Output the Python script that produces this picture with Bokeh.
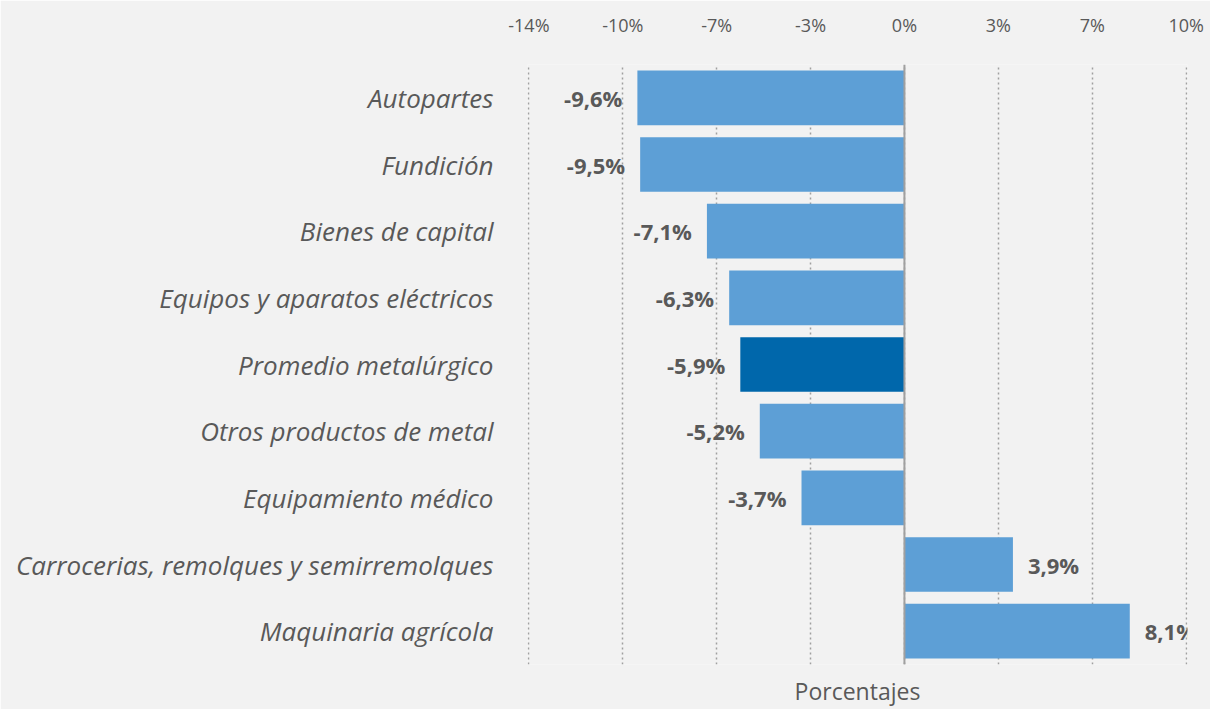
from bokeh.plotting import figure
from bokeh.models import (FactorRange, Range1d, LinearAxis, FixedTicker, Span,
                          ColumnDataSource, LabelSet)
from bokeh.core.properties import value
from bokeh.embed import file_html
from bokeh.resources import INLINE

categories = [
    "Autopartes",
    "Fundición",
    "Bienes de capital",
    "Equipos y aparatos eléctricos",
    "Promedio metalúrgico",
    "Otros productos de metal",
    "Equipamiento médico",
    "Carrocerias, remolques y semirremolques",
    "Maquinaria agrícola",
]
values = [-9.6, -9.5, -7.1, -6.3, -5.9, -5.2, -3.7, 3.9, 8.1]
highlight = "Promedio metalúrgico"

tick_values = [-13.5, -10.125, -6.75, -3.375, 0, 3.375, 6.75, 10.125]
tick_labels = ["-14%", "-10%", "-7%", "-3%", "0%", "3%", "7%", "10%"]

FONT = "Open Sans"
TXT = "#595959"

colors = ["#0067ab" if c == highlight else "#5d9fd6" for c in categories]
labels = [f"{v:.1f}".replace(".", ",") + "%" for v in values]
aligns = ["right" if v < 0 else "left" for v in values]
offsets = [-15 if v < 0 else 15 for v in values]

src = ColumnDataSource(dict(cat=categories, val=values, color=colors,
                            label=labels, align=aligns, off=offsets))

pad = 0.05
p = figure(width=1210, height=709, output_backend="svg", toolbar_location=None,
           y_range=FactorRange(factors=list(reversed(categories))),
           x_range=Range1d(tick_values[0] - pad, tick_values[-1] + pad),
           x_axis_location="above")
p.background_fill_color = "#f2f2f2"
p.border_fill_color = "#f2f2f2"
p.outline_line_color = None
p.min_border_left = 527
p.min_border_right = 23
p.min_border_top = 64
p.min_border_bottom = 34

p.hbar(y="cat", left=0, right="val", height=0.82, color="color",
       line_color=None, source=src)

lbl = LabelSet(x="val", y="cat", text="label", text_align="align",
               x_offset="off", text_baseline="middle", text_font=value(FONT),
               text_font_style="bold", text_font_size="22px",
               text_color=TXT, source=src)
p.add_layout(lbl)

zero = Span(location=0, dimension="height", line_color="#a0a0a0", line_width=2)
p.add_layout(zero)

# top axis
ax = p.xaxis[0]
ax.ticker = FixedTicker(ticks=tick_values)
ax.major_label_overrides = {t: l for t, l in zip(tick_values, tick_labels)}
ax.axis_line_color = None
ax.major_tick_line_color = None
ax.minor_tick_line_color = None
ax.major_label_standoff = 22
ax.major_label_text_font = FONT
ax.major_label_text_font_size = "18px"
ax.major_label_text_color = TXT

# bottom axis label only
bx = LinearAxis(ticker=FixedTicker(ticks=[]), axis_label="Porcentajes")
bx.axis_line_color = None
bx.major_tick_line_color = None
bx.minor_tick_line_color = None
bx.axis_label_standoff = 10
bx.axis_label_text_font = FONT
bx.axis_label_text_font_style = "normal"
bx.axis_label_text_font_size = "23px"
bx.axis_label_text_color = TXT
p.add_layout(bx, "below")

# y axis
ya = p.yaxis[0]
ya.axis_line_color = None
ya.major_tick_line_color = None
ya.minor_tick_line_color = None
ya.major_label_standoff = 28
ya.major_label_text_font = FONT
ya.major_label_text_font_style = "italic"
ya.major_label_text_font_size = "26px"
ya.major_label_text_color = TXT

p.xgrid.ticker = FixedTicker(ticks=tick_values)
p.xgrid.grid_line_color = "#a0a0a0"
p.xgrid.grid_line_dash = "2 3"
p.xgrid.grid_line_width = 1.5
p.ygrid.grid_line_color = None

open("out.html", "w").write(file_html(p, INLINE))
